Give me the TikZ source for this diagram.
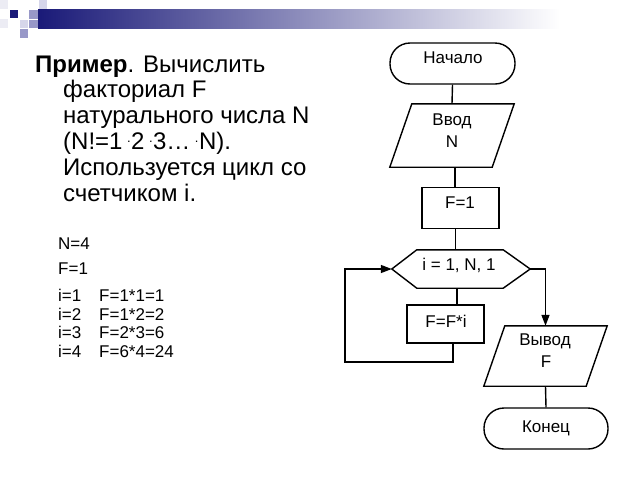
\documentclass[tikz,border=0pt]{standalone}
\usepackage{fontspec}
\setmainfont{Liberation Sans}
\usetikzlibrary{arrows.meta,calc}
\definecolor{navyc}{RGB}{26,26,120}
\definecolor{lavlight}{RGB}{214,214,234}
\definecolor{lavmid}{RGB}{152,152,200}
\definecolor{lavfaint}{RGB}{236,236,244}
\newcommand{\mdot}{\hspace{4.5pt}\raisebox{6.5pt}{\fontsize{13}{13}\selectfont .}\hspace{0.5pt}}
\begin{document}
\begin{tikzpicture}[x=1pt,y=-1pt,
  flow/.style={line width=1.4pt},
  arr/.style={flow,-{Triangle[length=11pt,width=8pt]}},
  term/.style={draw,line width=1.4pt,rounded corners=20pt,inner sep=0pt},
  procbox/.style={draw,line width=1.4pt,inner sep=0pt},
  blank/.style={inner sep=0pt,draw=none},
  lbl/.style={inner sep=0pt,font=\fontsize{17}{20}\selectfont},
  head/.style={inner sep=0pt,anchor=base west,font=\fontsize{24}{26}\selectfont},
  small/.style={inner sep=0pt,anchor=base west,font=\fontsize{17}{20}\selectfont}]
\useasboundingbox (0,0) rectangle (640,480);
\fill[white] (0,0) rectangle (640,480);
% header decoration
\shade[left color=navyc,right color=white] (38,9.5) rectangle (560,28.5);
\fill[lavfaint] (0,0) rectangle (8,8.5);
\fill[lavfaint] (0,19) rectangle (8,28);
\fill[navyc] (9.5,9.5) rectangle (18,18);
\fill[lavmid] (29,10) rectangle (37.5,18.5);
\fill[lavlight] (38.5,0) rectangle (47,8.5);
\fill[lavlight] (19.5,19.5) rectangle (28,28);
\fill[lavmid] (29,19.5) rectangle (37.5,28);
\fill[lavmid] (19.5,29) rectangle (28,37.5);
% left text
\node[head] (h1) at (35,72) {\textbf{Пример}. Вычислить};
\node[head] (h2) at (63,97.8) {факториал F};
\node[head] (h3) at (63,123.6) {натурального числа N};
\node[head] (h4) at (63,149.4) {(N!=1\mdot 2\mdot 3…\mdot N).};
\node[head] (h5) at (63,175.2) {Используется цикл со};
\node[head] (h6) at (63,201) {счетчиком i.};
\node[small] (s1) at (58,249) {N=4};
\node[small] (s2) at (58,274) {F=1};
\node[small] (s3) at (58,301) {i=1};
\node[small] (s3b) at (99,301) {F=1*1=1};
\node[small] (s4) at (58,320) {i=2};
\node[small] (s4b) at (99,320) {F=1*2=2};
\node[small] (s5) at (58,338.5) {i=3};
\node[small] (s5b) at (99,338.5) {F=2*3=6};
\node[small] (s6) at (58,357) {i=4};
\node[small] (s6b) at (99,357) {F=6*4=24};
% flowchart shapes
\node[term,minimum width=125pt,minimum height=41pt] (start) at (452.5,63.5) {};
\node[blank,minimum width=124pt,minimum height=63pt] (inp) at (452,135.5) {};
\draw[flow] ([xshift=22pt]inp.north west) -- (inp.north east) -- ([xshift=-22pt]inp.south east) -- (inp.south west) -- cycle;
\node[procbox,minimum width=77pt,minimum height=41pt] (fone) at (460.5,208) {};
\node[blank,minimum width=138pt,minimum height=38pt] (hex) at (461,269) {};
\draw[flow] (hex.west) -- ([xshift=25pt]hex.north west) -- ([xshift=-27pt]hex.north east) -- (hex.east) -- ([xshift=-27pt]hex.south east) -- ([xshift=25pt]hex.south west) -- cycle;
\node[procbox,minimum width=77pt,minimum height=38pt] (body) at (445.5,324) {};
\node[blank,minimum width=123pt,minimum height=60pt] (out) at (545.5,356) {};
\draw[flow] ([xshift=21pt]out.north west) -- (out.north east) -- ([xshift=-21pt]out.south east) -- (out.south west) -- cycle;
\node[term,minimum width=124pt,minimum height=41pt] (endn) at (546,428.5) {};
% flowchart texts
\node[lbl,anchor=base] (tstart) at (453,63) {Начало};
\node[lbl,anchor=base] (tinp1) at (452,125) {Ввод};
\node[lbl,anchor=base] (tinp2) at (452,147) {N};
\node[lbl,anchor=base] (tfone) at (460,208) {F=1};
\node[lbl,anchor=base] (thex) at (459,270) {i = 1, N, 1};
\node[lbl,anchor=base] (tbody) at (446,327) {F=F*i};
\node[lbl,anchor=base] (tout1) at (545,345) {Вывод};
\node[lbl,anchor=base] (tout2) at (546,367) {F};
\node[lbl,anchor=base] (tend) at (546,432) {Конец};
% connectors
\coordinate (loopc) at (345,362);
\draw[flow] (start.south) -- (inp.north);
\draw[flow] ([xshift=3pt]inp.south) -- ([xshift=3pt]inp.south |- fone.north);
\draw[flow] ([xshift=-5pt]fone.south) -- ([xshift=-5pt]fone.south |- hex.north);
\draw[flow] ([xshift=-4pt]hex.south) -- ([xshift=-4pt]hex.south |- body.north);
\draw[arr] ([xshift=7.5pt]body.south) |- (loopc) |- (hex.west);
\draw[arr] (hex.east) -| (out.north);
\draw[flow] (out.south) -- (endn.north);
\end{tikzpicture}
\end{document}
